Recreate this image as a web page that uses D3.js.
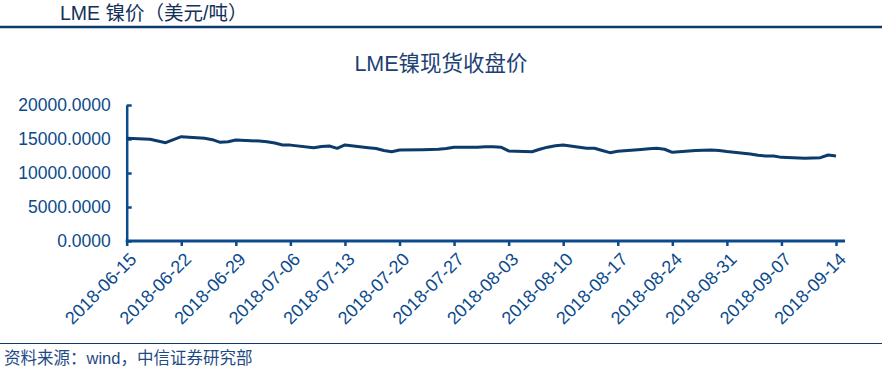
<!DOCTYPE html>
<html>
<head>
<meta charset="utf-8">
<script src="https://cdn.jsdelivr.net/npm/d3@7"></script>
<style>
  body { margin: 0; background: #fff; }
  text { font-family: "Liberation Sans", Arial, "Noto Sans CJK SC", sans-serif; }
</style>
</head>
<body>
<script>
// LME nickel spot close, USD/t
var dates = ["2018-06-15", "2018-06-18", "2018-06-19", "2018-06-20", "2018-06-21", "2018-06-22",
    "2018-06-25", "2018-06-26", "2018-06-27", "2018-06-28", "2018-06-29",
    "2018-07-02", "2018-07-03", "2018-07-04", "2018-07-05", "2018-07-06",
    "2018-07-09", "2018-07-10", "2018-07-11", "2018-07-12", "2018-07-13",
    "2018-07-16", "2018-07-17", "2018-07-18", "2018-07-19", "2018-07-20",
    "2018-07-23", "2018-07-24", "2018-07-25", "2018-07-26", "2018-07-27",
    "2018-07-30", "2018-07-31", "2018-08-01", "2018-08-02", "2018-08-03",
    "2018-08-06", "2018-08-07", "2018-08-08", "2018-08-09", "2018-08-10",
    "2018-08-13", "2018-08-14", "2018-08-15", "2018-08-16", "2018-08-17",
    "2018-08-20", "2018-08-21", "2018-08-22", "2018-08-23", "2018-08-24",
    "2018-08-27", "2018-08-28", "2018-08-29", "2018-08-30", "2018-08-31",
    "2018-09-03", "2018-09-04", "2018-09-05", "2018-09-06", "2018-09-07",
    "2018-09-10", "2018-09-11", "2018-09-12", "2018-09-13", "2018-09-14"];
var prices = [15100, 14960, 14700, 14460, 14900, 15340,
    15100, 14900, 14510, 14600, 14850,
    14700, 14600, 14400, 14120, 14100,
    13720, 13900, 13970, 13630, 14120,
    13720, 13600, 13300, 13130, 13380,
    13420, 13450, 13490, 13600, 13780,
    13800, 13850, 13870, 13800, 13240,
    13130, 13500, 13800, 14000, 14120,
    13630, 13630, 13300, 12990, 13200,
    13450, 13550, 13630, 13490, 13040,
    13300, 13350, 13380, 13300, 13150,
    12800, 12600, 12500, 12500, 12300,
    12160, 12200, 12250, 12650, 12500];
var tickDates = ["2018-06-15", "2018-06-22", "2018-06-29", "2018-07-06", "2018-07-13", "2018-07-20",
    "2018-07-27", "2018-08-03", "2018-08-10", "2018-08-17", "2018-08-24", "2018-08-31",
    "2018-09-07", "2018-09-14"];
var yTicks = [0, 5000, 10000, 15000, 20000];

var width = 889, height = 371;
var navy = "#0c3a6b";
var blue = "#0b4a8c";

var parse = d3.timeParse("%Y-%m-%d");
var fmt = d3.timeFormat("%Y-%m-%d");
var data = dates.map(function (d, i) { return { date: parse(d), value: prices[i] }; });

var svg = d3.select("body").append("svg")
    .attr("width", width)
    .attr("height", height);

// header
svg.append("text")
    .attr("x", 60).attr("y", 20)
    .attr("font-size", "19.5px")
    .attr("fill", "#14305a")
    .text("LME 镍价（美元/吨）");
svg.append("line")
    .attr("x1", 0).attr("x2", 882)
    .attr("y1", 27).attr("y2", 27)
    .attr("stroke", navy).attr("stroke-width", 2.5);

// chart title
svg.append("text")
    .attr("x", 441).attr("y", 71)
    .attr("text-anchor", "middle")
    .attr("font-size", "21.5px")
    .attr("fill", "#1d3f75")
    .text("LME镍现货收盘价");

var x = d3.scaleTime()
    .domain([parse(tickDates[0]), parse(tickDates[tickDates.length - 1])])
    .range([126.7, 836]);

var y = d3.scaleLinear()
    .domain([0, 20000])
    .range([241, 105]);

// y axis
var yAxis = d3.axisLeft(y)
    .tickValues(yTicks)
    .tickSize(-5)
    .tickSizeOuter(0)
    .tickPadding(16)
    .tickFormat(d3.format(".4f"));

var gy = svg.append("g")
    .attr("transform", "translate(" + x.range()[0] + ",0)")
    .call(yAxis);
gy.select(".domain").attr("stroke", blue).attr("stroke-width", 2.5);
gy.selectAll(".tick line").attr("stroke", blue).attr("stroke-width", 2.5);
gy.selectAll(".tick text")
    .attr("font-size", "17.5px")
    .attr("fill", blue)
    .style("font-family", "'Liberation Sans', Arial, sans-serif");

// x axis
var xAxis = d3.axisBottom(x)
    .tickValues(tickDates.map(parse))
    .tickSize(5)
    .tickSizeOuter(0)
    .tickFormat(fmt);

var gx = svg.append("g")
    .attr("transform", "translate(0," + y(0) + ")")
    .call(xAxis);
gx.select(".domain").remove();
gx.append("line")
    .attr("x1", x.range()[0] - 1).attr("x2", x.range()[1] + 9)
    .attr("stroke", blue).attr("stroke-width", 3);
gx.selectAll(".tick line").attr("stroke", blue).attr("stroke-width", 2.5);
gx.selectAll(".tick text")
    .attr("font-size", "18px")
    .attr("fill", blue)
    .attr("text-anchor", "end")
    .attr("x", 0).attr("y", 0).attr("dy", "0.35em")
    .attr("transform", "translate(6,15) rotate(-45)")
    .style("font-family", "'Liberation Sans', Arial, sans-serif");

// price line
var line = d3.line()
    .x(function (d) { return x(d.date); })
    .y(function (d) { return y(d.value); });

svg.append("path")
    .datum(data)
    .attr("fill", "none")
    .attr("stroke", navy)
    .attr("stroke-width", 3)
    .attr("stroke-linejoin", "round")
    .attr("d", line);

// footer
svg.append("line")
    .attr("x1", 0).attr("x2", 882)
    .attr("y1", 343.5).attr("y2", 343.5)
    .attr("stroke", navy).attr("stroke-width", 1);
svg.append("text")
    .attr("x", 4).attr("y", 364)
    .attr("font-size", "16.5px")
    .attr("fill", "#1f4a85")
    .text("资料来源：wind，中信证券研究部");
</script>
</body>
</html>
